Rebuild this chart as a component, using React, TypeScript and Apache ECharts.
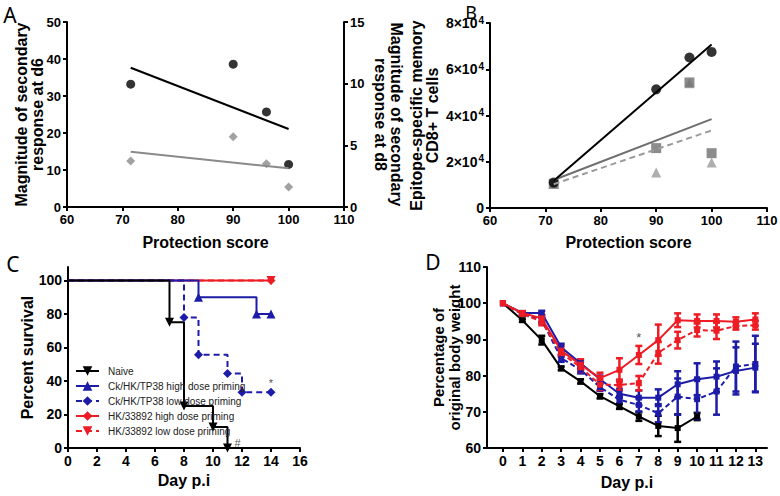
import React, { useEffect, useRef } from "react";
import * as echarts from "echarts";

const FONT = "'Liberation Sans', Arial, Helvetica, sans-serif";
const BLUE = "#1c1ca8";
const RED = "#ee1c24";
const GRAY_A = "#8a8a8a";
const GRAY_SQ = "#6f6f6f";
const GRAY_TRI = "#9a9a9a";

// ---------- Panel A ----------
const scoreA = [71.5, 90, 96, 100];
const d6Response = [33.2, 38.6, 25.7, 11.5];
const d8Response = [3.72, 5.7, 3.51, 1.62];

// ---------- Panel B ----------
const scoreB = [71.5, 90, 96, 100];
const memCircle = [11000, 51300, 65100, 67500];
const memSquare = [10500, 25900, 54300, 23700];
const memTriangle = [10500, 15300, 54000, 19700];
const bTicks = [0, 20000, 40000, 60000, 80000];

// ---------- Panel C (survival) ----------
const naiveDays = [0, 7, 8, 10, 11];
const naiveSurv = [100, 75, 25, 12.5, 0];
const ckHighDays = [0, 9, 13, 14];
const ckHighSurv = [100, 90, 80, 80];
const ckLowDays = [0, 8, 9, 11, 12, 14];
const ckLowSurv = [100, 77.8, 55.6, 44.4, 33.3, 33.3];
const hkHighDays = [0, 14];
const hkHighSurv = [100, 100];
const hkLowDays = [0, 14];
const hkLowSurv = [100, 100];
const survivalMarks: [number, number, string][] = [
  [14, 39, "*"],
  [11.7, 3, "#"],
];
const survivalTicks = [0, 20, 40, 60, 80, 100];

// ---------- Panel D (body weight) ----------
const dayLabels = [0, 1, 2, 3, 4, 5, 6, 7, 8, 9, 10, 11, 12, 13];
const naiveW = [100, 95.3, 89.8, 82.0, 78.4, 74.3, 71.5, 68.7, 66.1, 65.5, 68.7];
const naiveSD = [0, 0.4, 1.2, 0.5, 0.6, 0.6, 0.7, 1.2, 2.8, 3.8, 1.0];
const ckHighW = [100, 97.3, 97.3, 87.8, 83.4, 79.0, 75.0, 73.9, 73.9, 77.6, 79.0, 79.7, 81.3, 82.2];
const ckHighSD = [0, 0.5, 0.6, 1.0, 1.0, 1.0, 1.2, 2.0, 2.3, 3.6, 4.4, 4.2, 6.5, 6.6];
const ckLowW = [100, 97.0, 95.3, 84.8, 81.6, 76.8, 73.3, 71.9, 69.6, 74.2, 73.5, 75.6, 82.5, 83.2];
const ckLowSD = [0, 0.5, 0.8, 1.0, 1.0, 1.0, 1.0, 1.8, 2.5, 5.0, 5.5, 6.4, 6.9, 7.8];
const hkHighW = [100, 97.3, 95.8, 86.9, 83.0, 79.3, 81.6, 85.7, 89.8, 95.3, 95.1, 95.1, 94.9, 95.5];
const hkHighSD = [0, 0.5, 1.0, 1.3, 1.5, 1.5, 3.2, 2.5, 4.3, 1.9, 1.8, 1.8, 1.2, 1.7];
const hkLowW = [100, 97.0, 94.9, 86.2, 82.3, 77.5, 77.4, 77.9, 86.3, 89.8, 92.6, 92.4, 93.7, 93.9];
const hkLowSD = [0, 0.5, 1.0, 1.0, 1.3, 1.5, 1.5, 2.0, 3.0, 2.3, 1.8, 2.3, 1.0, 1.2];
const weightMarks: [number, number, string][] = [[7, 90.6, "*"]];

const LEGEND = [
  "Naive",
  "Ck/HK/TP38 high dose priming",
  "Ck/HK/TP38 low dose priming",
  "HK/33892 high dose priming",
  "HK/33892 low dose priming",
];

function linearFit(xs: number[], ys: number[]) {
  const n = xs.length;
  const mx = xs.reduce((a, b) => a + b, 0) / n;
  const my = ys.reduce((a, b) => a + b, 0) / n;
  let sxy = 0;
  let sxx = 0;
  for (let i = 0; i < n; i++) {
    sxy += (xs[i] - mx) * (ys[i] - my);
    sxx += (xs[i] - mx) * (xs[i] - mx);
  }
  const slope = sxy / sxx;
  const x0 = Math.min(...xs);
  const x1 = Math.max(...xs);
  return [
    [x0, my + slope * (x0 - mx)],
    [x1, my + slope * (x1 - mx)],
  ];
}

const axisBase = (fontSize: number) => ({
  axisLine: { show: true, onZero: false, lineStyle: { color: "#000", width: 2 } },
  axisTick: { show: true, length: 4, lineStyle: { color: "#000", width: 2 } },
  axisLabel: { color: "#000", fontWeight: "bold", fontSize, fontFamily: FONT, margin: 6 },
  splitLine: { show: false },
  nameMoveOverlap: false,
  nameTextStyle: {
    color: "#000",
    fontWeight: "bold",
    fontSize: 16,
    fontFamily: FONT,
    lineHeight: 16,
  },
});

function errorSeries(name: string, vals: number[], sds: number[], color: string) {
  const data = vals
    .map((v, i) => [i, v - sds[i], v + sds[i]])
    .filter((_, i) => sds[i] > 0);
  return {
    type: "custom",
    name,
    xAxisIndex: 3,
    yAxisIndex: 4,
    silent: true,
    encode: { x: 0, y: [1, 2] },
    data,
    renderItem: (_params: any, api: any) => {
      const x = api.value(0);
      const lo = api.coord([x, api.value(1)]);
      const hi = api.coord([x, api.value(2)]);
      const w = 3.5;
      const style = { stroke: color, lineWidth: 2.5 };
      return {
        type: "group",
        children: [
          { type: "line", shape: { x1: lo[0], y1: lo[1], x2: hi[0], y2: hi[1] }, style },
          { type: "line", shape: { x1: lo[0] - w, y1: lo[1], x2: lo[0] + w, y2: lo[1] }, style },
          { type: "line", shape: { x1: hi[0] - w, y1: hi[1], x2: hi[0] + w, y2: hi[1] }, style },
        ],
      };
    },
  };
}

function weightLine(name: string, vals: number[], color: string, dashed: boolean) {
  return {
    type: "line",
    name,
    xAxisIndex: 3,
    yAxisIndex: 4,
    data: vals.map((v, i) => [i, v]),
    symbol: "rect",
    symbolSize: 6,
    lineStyle: { color, width: 2, type: dashed ? [5, 3] : "solid" },
    itemStyle: { color },
  };
}

function kmLine(
  name: string,
  days: number[],
  surv: number[],
  color: string,
  symbol: string,
  rotate: number,
  dashed: boolean
) {
  return {
    type: "line",
    name,
    xAxisIndex: 2,
    yAxisIndex: 3,
    step: "end",
    data: days.map((d, i) =>
      i === 0 ? { value: [d, surv[i]], symbol: "none" } : { value: [d, surv[i]] }
    ),
    symbol,
    symbolSize: 9,
    symbolRotate: rotate,
    lineStyle: { color, width: 2, type: dashed ? [6, 4] : "solid" },
    itemStyle: { color },
  };
}

export default function App() {
  const ref = useRef<HTMLDivElement>(null);

  useEffect(() => {
    if (!ref.current) return;
    const chart = echarts.init(ref.current, undefined, { renderer: "svg" });

    const fitD6 = linearFit(scoreA, d6Response);
    const fitD8 = linearFit(scoreA, d8Response);
    const fitCircle = linearFit(scoreB, memCircle);
    const fitSquare = linearFit(scoreB, memSquare);
    const fitTriangle = linearFit(scoreB, memTriangle);

    const letter = (t: string, x: number, y: number, size = 21) => ({
      type: "text",
      x,
      y,
      style: {
        text: t,
        font: `${size}px 'Noto Sans', 'Liberation Sans', sans-serif`,
        fill: "#000",
        textAlign: "center",
        textVerticalAlign: "middle",
      },
    });

    const option: any = {
      animation: false,
      backgroundColor: "#fff",
      grid: [
        { left: 67, top: 22, width: 277, height: 185, outerBoundsMode: "none" },
        { left: 490, top: 23, width: 277, height: 185, outerBoundsMode: "none" },
        { left: 68, top: 267, width: 232, height: 181, outerBoundsMode: "none" },
        { left: 487, top: 267, width: 280, height: 181, outerBoundsMode: "none" },
      ],
      graphic: [
        letter("A", 10, 15),
        letter("B", 471, 12, 18),
        letter("C", 13, 264),
        letter("D", 433, 262),
      ],
      legend: {
        data: LEGEND,
        orient: "vertical",
        left: 75,
        top: 366,
        padding: 0,
        itemWidth: 23,
        itemHeight: 12,
        itemGap: 5,
        selectedMode: false,
        textStyle: { fontFamily: FONT, fontSize: 10, color: "#222", padding: [0, 0, 0, 4] },
      },
      xAxis: [
        {
          ...axisBase(13),
          type: "value",
          gridIndex: 0,
          min: 60,
          max: 110,
          interval: 10,
          name: "Protection score",
          nameLocation: "middle",
          nameGap: 27,
        },
        {
          ...axisBase(13),
          type: "value",
          gridIndex: 1,
          min: 60,
          max: 110,
          interval: 10,
          name: "Protection score",
          nameLocation: "middle",
          nameGap: 26,
        },
        {
          ...axisBase(14),
          type: "value",
          gridIndex: 2,
          min: 0,
          max: 16,
          interval: 2,
          name: "Day p.i",
          nameLocation: "middle",
          nameGap: 24,
        },
        {
          ...axisBase(14),
          type: "value",
          gridIndex: 3,
          min: -0.82,
          max: 13.6,
          axisTick: { ...axisBase(14).axisTick, customValues: dayLabels },
          axisLabel: {
            ...axisBase(14).axisLabel,
            customValues: dayLabels,
            formatter: (v: number) => (Number.isInteger(v) ? String(v) : ""),
          },
          name: "Day p.i",
          nameLocation: "middle",
          nameGap: 26,
        },
      ],
      yAxis: [
        {
          ...axisBase(13),
          type: "value",
          gridIndex: 0,
          min: 0,
          max: 50,
          interval: 10,
          name: "Magnitude of secondary\nresponse at d6",
          nameLocation: "middle",
          nameRotate: 90,
          nameGap: 22,
        },
        {
          ...axisBase(13),
          type: "value",
          gridIndex: 0,
          position: "right",
          min: 0,
          max: 15,
          interval: 5,
          name: "Magnitude of secondary\nresponse at d8",
          nameLocation: "middle",
          nameRotate: -90,
          nameGap: 28,
        },
        {
          ...axisBase(14),
          type: "value",
          gridIndex: 1,
          min: 0,
          max: 80000,
          interval: 20000,
          axisLabel: {
            color: "#000",
            fontWeight: "bold",
            fontFamily: FONT,
            fontSize: 14,
            margin: 6,
            customValues: bTicks,
            formatter: (v: number) => (v === 0 ? "{b|0}" : `{b|${v / 10000}×10}{s|4}`),
            rich: {
              b: { fontSize: 14, fontWeight: "bold", fontFamily: FONT, color: "#000", lineHeight: 16 },
              s: {
                fontSize: 10,
                fontWeight: "bold",
                fontFamily: FONT,
                color: "#000",
                verticalAlign: "top",
                lineHeight: 10,
                padding: [0, 0, 0, 1],
              },
            },
          },
          name: "Epitope-specific memory\nCD8+ T cells",
          nameLocation: "middle",
          nameRotate: 90,
          nameGap: 50,
        },
        {
          ...axisBase(14),
          type: "value",
          gridIndex: 2,
          min: 0,
          max: 108,
          axisTick: { ...axisBase(14).axisTick, customValues: survivalTicks },
          axisLabel: {
            ...axisBase(14).axisLabel,
            customValues: survivalTicks,
            formatter: (v: number) => (v % 20 === 0 ? String(v) : ""),
          },
          name: "Percent survival",
          nameLocation: "middle",
          nameRotate: 90,
          nameGap: 33,
        },
        {
          ...axisBase(14),
          type: "value",
          gridIndex: 3,
          min: 60,
          max: 110,
          interval: 10,
          name: "Percentage of\noriginal body weight",
          nameLocation: "middle",
          nameRotate: 90,
          nameGap: 25,
          nameTextStyle: { ...axisBase(14).nameTextStyle, fontSize: 15 },
        },
      ],
      series: [
        // ---- Panel A ----
        {
          type: "line",
          name: "fit-d6",
          xAxisIndex: 0,
          yAxisIndex: 0,
          data: fitD6,
          symbol: "none",
          lineStyle: { color: "#000", width: 2 },
          silent: true,
        },
        {
          type: "line",
          name: "fit-d8",
          xAxisIndex: 0,
          yAxisIndex: 1,
          data: fitD8,
          symbol: "none",
          lineStyle: { color: GRAY_A, width: 2 },
          silent: true,
        },
        {
          type: "scatter",
          name: "d6",
          xAxisIndex: 0,
          yAxisIndex: 0,
          data: scoreA.map((x, i) => [x, d6Response[i]]),
          symbol: "circle",
          symbolSize: 9,
          itemStyle: { color: "#000" },
        },
        {
          type: "scatter",
          name: "d8",
          xAxisIndex: 0,
          yAxisIndex: 1,
          data: scoreA.map((x, i) => [x, d8Response[i]]),
          symbol: "diamond",
          symbolSize: 9,
          itemStyle: { color: GRAY_A },
        },
        // ---- Panel B ----
        {
          type: "line",
          name: "fit-square",
          xAxisIndex: 1,
          yAxisIndex: 2,
          data: fitSquare,
          symbol: "none",
          lineStyle: { color: GRAY_SQ, width: 2 },
          silent: true,
        },
        {
          type: "line",
          name: "fit-triangle",
          xAxisIndex: 1,
          yAxisIndex: 2,
          data: fitTriangle,
          symbol: "none",
          lineStyle: { color: GRAY_TRI, width: 2, type: [6, 4] },
          silent: true,
        },
        {
          type: "scatter",
          name: "triangle",
          xAxisIndex: 1,
          yAxisIndex: 2,
          data: scoreB.map((x, i) => [x, memTriangle[i]]),
          symbol: "triangle",
          symbolSize: 10,
          itemStyle: { color: GRAY_TRI },
        },
        {
          type: "scatter",
          name: "square",
          xAxisIndex: 1,
          yAxisIndex: 2,
          data: scoreB.map((x, i) => [x, memSquare[i]]),
          symbol: "rect",
          symbolSize: 10,
          itemStyle: { color: GRAY_SQ },
        },
        {
          type: "line",
          name: "fit-circle",
          xAxisIndex: 1,
          yAxisIndex: 2,
          data: fitCircle,
          symbol: "none",
          lineStyle: { color: "#000", width: 2 },
          silent: true,
        },
        {
          type: "scatter",
          name: "circle",
          xAxisIndex: 1,
          yAxisIndex: 2,
          data: scoreB.map((x, i) => [x, memCircle[i]]),
          symbol: "circle",
          symbolSize: 10,
          itemStyle: { color: "#000" },
        },
        // ---- Panel C ----
        kmLine(LEGEND[4], hkLowDays, hkLowSurv, RED, "triangle", 180, true),
        kmLine(LEGEND[3], hkHighDays, hkHighSurv, RED, "diamond", 0, false),
        kmLine(LEGEND[2], ckLowDays, ckLowSurv, BLUE, "diamond", 0, true),
        kmLine(LEGEND[1], ckHighDays, ckHighSurv, BLUE, "triangle", 0, false),
        kmLine(LEGEND[0], naiveDays, naiveSurv, "#000", "triangle", 180, false),
        {
          type: "scatter",
          name: "survival-marks",
          xAxisIndex: 2,
          yAxisIndex: 3,
          symbolSize: 0,
          data: survivalMarks.map((m) => ({ value: [m[0], m[1]], name: m[2] })),
          label: {
            show: true,
            position: "inside",
            formatter: "{b}",
            color: "#222",
            fontSize: 11,
            fontFamily: FONT,
          },
        },
        // ---- Panel D ----
        errorSeries("naive-err", naiveW, naiveSD, "#000"),
        weightLine("naive-w", naiveW, "#000", false),
        errorSeries("cklow-err", ckLowW, ckLowSD, BLUE),
        weightLine("cklow-w", ckLowW, BLUE, true),
        errorSeries("ckhigh-err", ckHighW, ckHighSD, BLUE),
        weightLine("ckhigh-w", ckHighW, BLUE, false),
        errorSeries("hklow-err", hkLowW, hkLowSD, RED),
        weightLine("hklow-w", hkLowW, RED, true),
        errorSeries("hkhigh-err", hkHighW, hkHighSD, RED),
        weightLine("hkhigh-w", hkHighW, RED, false),
        {
          type: "scatter",
          name: "weight-marks",
          xAxisIndex: 3,
          yAxisIndex: 4,
          symbolSize: 0,
          data: weightMarks.map((m) => ({ value: [m[0], m[1]], name: m[2] })),
          label: {
            show: true,
            position: "inside",
            formatter: "{b}",
            color: "#222",
            fontSize: 13,
            fontFamily: FONT,
          },
        },
      ],
    };

    chart.setOption(option);
    return () => chart.dispose();
  }, []);

  return (
    <div
      ref={ref}
      style={{ position: "absolute", left: 0, top: 0, width: 780, height: 496, background: "#fff" }}
    />
  );
}
